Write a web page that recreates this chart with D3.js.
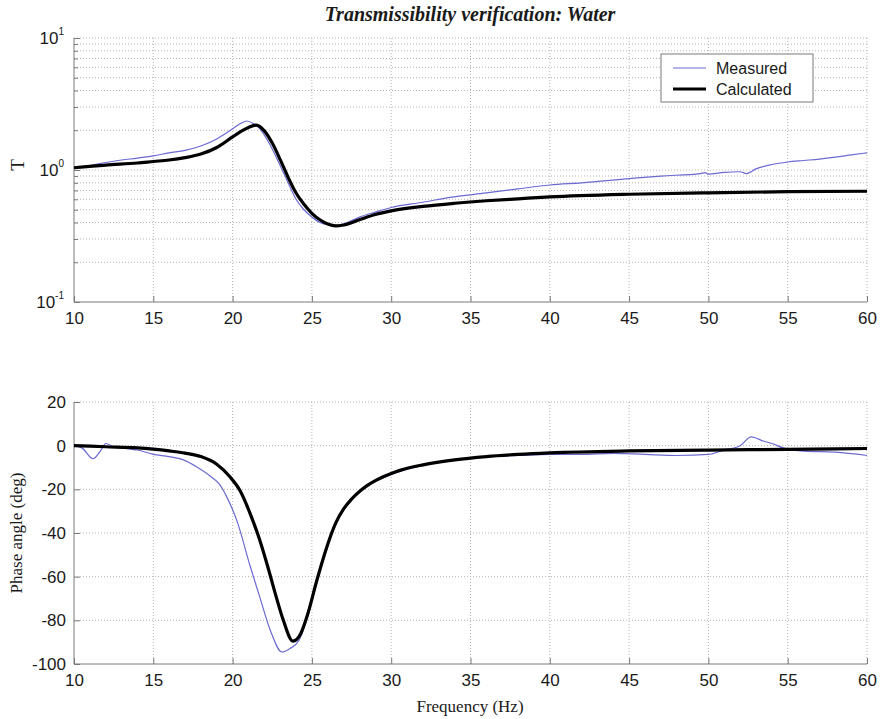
<!DOCTYPE html>
<html><head><meta charset="utf-8">
<script src="https://cdn.jsdelivr.net/npm/d3@7"></script>
<style>body{margin:0;background:#fff}svg{display:block}</style>
</head><body><svg id="c" width="881" height="719"></svg>
<script>
// ---- data ----
const magCalcFreq = [10,12,14,15,16,17,18,19,20,20.5,21,21.5,22,22.5,23,23.5,24,24.5,25,25.5,26,26.5,27,28,29,30,32,34,36,38,40,45,50,55,60];
const magCalc     = [1.04,1.09,1.13,1.16,1.19,1.24,1.32,1.48,1.78,1.95,2.1,2.19,1.98,1.6,1.2,0.88,0.67,0.55,0.47,0.42,0.39,0.377,0.383,0.42,0.46,0.49,0.53,0.56,0.585,0.605,0.625,0.655,0.672,0.685,0.69];
const magMeasFreq = [10,11,12,13,14,15,16,17,18,19,20,20.5,20.9,21.3,21.8,22.3,23,23.5,24,24.5,25,25.5,26,26.5,27,28,29,30,32,33.7,36,38,40,42,45,47,49.5,49.8,50,51,52,52.4,53,54,55,56,57,58,59,60];
const magMeas     = [1.04,1.08,1.14,1.19,1.23,1.28,1.35,1.41,1.52,1.72,2.05,2.25,2.35,2.25,2.0,1.6,1.08,0.8,0.6,0.5,0.44,0.4,0.385,0.38,0.39,0.44,0.48,0.52,0.57,0.62,0.67,0.72,0.77,0.8,0.86,0.9,0.94,0.955,0.93,0.96,0.97,0.94,1.02,1.1,1.15,1.18,1.21,1.25,1.3,1.35];
const phCalcFreq = [10,12,14,15,16,17,18,19,19.8,20.5,21.1,21.7,22.2,22.7,23.2,23.8,24.3,24.7,25.3,25.7,26.1,26.5,27,27.5,28,28.5,29,29.5,30,30.6,32,34,36,38,40,45,50,55,60];
const phCalc     = [0,-0.5,-1,-1.6,-2.4,-3.4,-5,-8.5,-14,-21,-31,-43,-55,-68,-80,-89.5,-86,-78,-62,-52,-43,-35.5,-29,-24.5,-21,-18.2,-16,-14.2,-12.7,-11.2,-8.8,-6.5,-5,-4,-3.3,-2.4,-2,-1.7,-1.3];
const phMeasFreq = [10,10.5,11.2,11.7,12,12.5,13,13.5,14,15,16,16.9,17.8,18.6,19.2,19.6,20.3,21.1,21.7,22.4,23.1,23.6,24.2,24.7,25.3,25.7,26.1,26.5,27,27.8,28.5,29.5,30.6,32,33.7,36,38,40,42,44,46,48,50,51,52,52.7,53.5,54,54.7,56,58,60];
const phMeas     = [0,-1,-6,-2,1,-0.5,-1,-1.5,-2,-4,-5,-6.5,-10,-14,-18,-23,-35,-55,-69,-85,-94.5,-93,-89,-79,-63,-53,-44,-36,-29.5,-22.5,-18.5,-14.7,-11.7,-9,-7,-5,-4.5,-4,-4,-3.5,-4,-4.5,-4,-2,0,4,2,1,-1,-2.5,-3,-4.5];
const xTicks = [10,15,20,25,30,35,40,45,50,55,60];
const magMajor = [0.1,1,10];
const magExp = ["-1","0","1"];
const phTicks = [-100,-80,-60,-40,-20,0,20];
const seriesNames = ["Measured","Calculated"];
const titleText = "Transmissibility verification: Water";

// ---- drawing ----
const svg = d3.select("#c");
const L = 74, R = 867;
const x = d3.scaleLinear().domain([10,60]).range([L,R]);
const yT = d3.scaleLog().domain([0.1,10]).range([302,38]);
const yP = d3.scaleLinear().domain([-100,20]).range([664,402]);
const gridCol = "#b4b4b4", axCol = "#7a7a7a", txtCol = "#1a1a1a";
const blue = "#6a6ad2";
const sans = "'Liberation Sans', Arial, sans-serif";
const serif = "'Liberation Serif', 'Times New Roman', serif";
const fmt = d => String(d);

const minors = [];
[0.1,1].forEach(b => { for (let k=2;k<=9;k++) minors.push(b*k); });

function grid(g, yScale, hVals, top, bottom) {
  g.selectAll("line.v").data(xTicks.slice(1)).join("line")
    .attr("x1", d=>x(d)).attr("x2", d=>x(d)).attr("y1", top).attr("y2", bottom)
    .attr("stroke", gridCol).attr("stroke-dasharray","1,2");
  g.selectAll("line.h").data(hVals).join("line").attr("class","h")
    .attr("x1", L).attr("x2", R).attr("y1", d=>yScale(d)).attr("y2", d=>yScale(d))
    .attr("stroke", gridCol).attr("stroke-dasharray","1,2");
}

// top panel
const gT = svg.append("g");
grid(gT, yT, minors.concat([1,10]), 38, 302);
const axT = d3.axisLeft(yT).tickValues(magMajor.concat(minors)).tickFormat("")
  .tickSizeInner(-6).tickSizeOuter(0);
const gAyT = gT.append("g").attr("transform",`translate(${L},0)`).call(axT);
gAyT.selectAll(".tick line").attr("x2", d => magMajor.includes(d) ? 6 : 4);
gAyT.selectAll("path,line").attr("stroke", axCol);
gAyT.select("path").attr("d", `M0,38V302`);
magMajor.forEach((v,i) => {
  const t = gT.append("text").attr("x", 64).attr("y", yT(v)+6)
    .attr("text-anchor","end").attr("font-family",sans).attr("font-size",17).attr("fill",txtCol);
  t.append("tspan").text("10");
  t.append("tspan").attr("dy",-9).attr("font-size",10).text(magExp[i]);
});
const axX = d3.axisBottom(x).tickValues(xTicks).tickFormat(fmt).tickSizeInner(-6).tickSizeOuter(0).tickPadding(10);
function styleX(g){ g.selectAll("path,line").attr("stroke",axCol); g.selectAll("text").attr("font-family",sans).attr("font-size",17).attr("fill",txtCol); g.select("path").attr("d",`M${L},0H${R}`); }
gT.append("g").attr("transform","translate(0,302)").call(axX).call(styleX);

const lineT = (fx, fy) => d3.line().x((d,i)=>x(fx[i])).y((d,i)=>yT(fy[i])).curve(d3.curveMonotoneX);
gT.append("path").datum(magMeas).attr("d", lineT(magMeasFreq, magMeas)).attr("fill","none").attr("stroke",blue).attr("stroke-width",1.2);
gT.append("path").datum(magCalc).attr("d", lineT(magCalcFreq, magCalc)).attr("fill","none").attr("stroke","#000").attr("stroke-width",3.2);

gT.append("text").attr("transform","translate(24,165) rotate(-90)").attr("text-anchor","middle")
  .attr("font-family",serif).attr("font-size",19).attr("fill",txtCol).text("T");

// legend
const lg = gT.append("g");
lg.append("rect").attr("x",661).attr("y",54).attr("width",152).attr("height",48).attr("fill","#fff").attr("stroke",axCol);
[blue,"#000"].forEach((c,i) => {
  const yy = 68 + i*21;
  lg.append("line").attr("x1",673).attr("x2",706).attr("y1",yy).attr("y2",yy).attr("stroke",c).attr("stroke-width", i? 3.2 : 1.2);
  lg.append("text").attr("x",716).attr("y",yy+6).attr("font-family",sans).attr("font-size",16).attr("fill",txtCol).text(seriesNames[i]);
});

// title
svg.append("text").attr("x",470).attr("y",21).attr("text-anchor","middle")
  .attr("font-family",serif).attr("font-style","italic").attr("font-weight","bold").attr("font-size",20).attr("fill",txtCol).text(titleText);

// bottom panel
const gP = svg.append("g");
grid(gP, yP, phTicks.slice(1), 402, 664);
const axP = d3.axisLeft(yP).tickValues(phTicks).tickFormat(fmt).tickSizeInner(-6).tickSizeOuter(0).tickPadding(8);
const gAyP = gP.append("g").attr("transform",`translate(${L},0)`).call(axP);
gAyP.selectAll("path,line").attr("stroke",axCol);
gAyP.selectAll("text").attr("font-family",sans).attr("font-size",17).attr("fill",txtCol);
gAyP.select("path").attr("d","M0,402V664");
gP.append("g").attr("transform","translate(0,664)").call(axX).call(styleX);

const lineP = (fx, fy) => d3.line().x((d,i)=>x(fx[i])).y((d,i)=>yP(fy[i])).curve(d3.curveMonotoneX);
gP.append("path").datum(phMeas).attr("d", lineP(phMeasFreq, phMeas)).attr("fill","none").attr("stroke",blue).attr("stroke-width",1.2);
gP.append("path").datum(phCalc).attr("d", lineP(phCalcFreq, phCalc)).attr("fill","none").attr("stroke","#000").attr("stroke-width",3.2);

gP.append("text").attr("transform","translate(22,533) rotate(-90)").attr("text-anchor","middle")
  .attr("font-family",serif).attr("font-size",17).attr("fill",txtCol).text("Phase angle (deg)");
svg.append("text").attr("x",470).attr("y",712).attr("text-anchor","middle")
  .attr("font-family",serif).attr("font-size",17).attr("fill",txtCol).text("Frequency (Hz)");
</script></body></html>
